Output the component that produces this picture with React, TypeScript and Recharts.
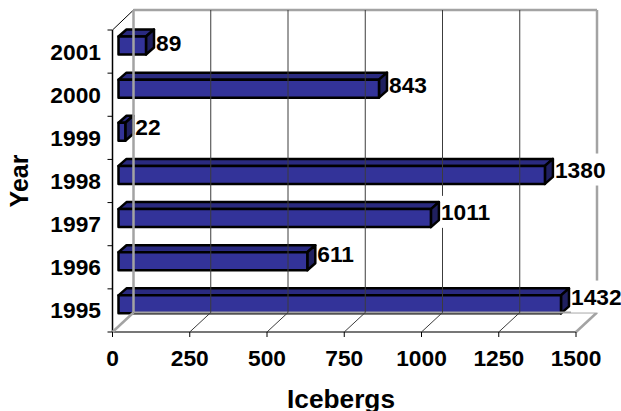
import React from "react";
import { BarChart, Bar, XAxis, YAxis, LabelList } from "recharts";

const years = ["2001", "2000", "1999", "1998", "1997", "1996", "1995"];
const icebergs = [89, 843, 22, 1380, 1011, 611, 1432];
const valueTicks = [0, 250, 500, 750, 1000, 1250, 1500];
const data = years.map((year, i) => ({ year, icebergs: icebergs[i] }));

const W = 621, H = 411;
const LEFT = 112.5, RIGHT = 576, TOP = 30, BOTTOM = 332;
const WALL_DX = 21, WALL_DY = 19.5, WALL_TOP = 10;
const BAR_DX = 6, BAR_DY = 6.5, DEPTH_X = 8, DEPTH_Y = 7;
const BAND = (BOTTOM - TOP) / years.length;
const FONT = "'Liberation Sans', Arial, sans-serif";
const GREY = "#a3a3a3";
const DARK = "#3c3c3c";
const STRETCH = 1.035;

const Txt = ({ x, y, children, anchor = "middle", size = 22, sx = STRETCH }: any) => (
  <text transform={`translate(${x},${y}) scale(${sx},1)`} textAnchor={anchor} fontFamily={FONT}
    fontWeight="bold" fontSize={size} fill="#000">{children}</text>
);

const XTick = ({ x, index, payload }: any) => {
  const edge = index === 0 || index === valueTicks.length - 1;
  const backY = BOTTOM - WALL_DY;
  return (
    <g>
      {index === 0 && (
        <g>
          <line x1={LEFT + WALL_DX} x2={RIGHT + WALL_DX} y1={WALL_TOP} y2={WALL_TOP} stroke={GREY} strokeWidth={2.5} />
          <line x1={LEFT + WALL_DX} x2={RIGHT + WALL_DX} y1={backY} y2={backY} stroke={GREY} strokeWidth={2} />
          <line x1={LEFT} x2={RIGHT} y1={BOTTOM} y2={BOTTOM} stroke="#777" strokeWidth={2} />
          <line x1={LEFT} x2={LEFT} y1={TOP} y2={BOTTOM} stroke="#000" strokeWidth={1.5} />
          <line x1={LEFT} x2={LEFT + WALL_DX} y1={TOP} y2={WALL_TOP} stroke="#000" strokeWidth={1} />
        </g>
      )}
      <line x1={x + WALL_DX} x2={x + WALL_DX} y1={WALL_TOP} y2={backY}
        stroke={edge ? GREY : DARK} strokeWidth={edge ? 2.5 : 1} />
      <line x1={x} x2={x + WALL_DX} y1={BOTTOM} y2={backY}
        stroke={edge ? GREY : DARK} strokeWidth={edge ? 2.5 : 1} />
      <line x1={x} x2={x} y1={BOTTOM} y2={BOTTOM + 5} stroke="#000" strokeWidth={1} />
      <Txt x={x} y={366}>{payload.value}</Txt>
      {index === 0 && <Txt x={341} y={408} size={26} sx={1.01}>Icebergs</Txt>}
    </g>
  );
};

const YTick = ({ y, index, payload }: any) => (
  <g>
    {index === 0 && <line x1={LEFT - 5} x2={LEFT} y1={y - BAND / 2} y2={y - BAND / 2} stroke="#000" />}
    <line x1={LEFT - 5} x2={LEFT} y1={y + BAND / 2} y2={y + BAND / 2} stroke="#000" />
    <Txt x={101} y={y + 8} anchor="end">{payload.value}</Txt>
    {index === 3 && (
      <text transform={`translate(28,181) scale(1.06,1) rotate(-90)`} textAnchor="middle"
        fontFamily={FONT} fontWeight="bold" fontSize={25} fill="#000">Year</text>
    )}
  </g>
);

const Bar3D = ({ x, y, width, height }: any) => {
  const fx = x + BAR_DX, fy = y - BAR_DY, r = fx + width;
  const b = fy + height;
  const outline = { stroke: "#000", strokeWidth: 2.5, strokeLinejoin: "round" as const };
  return (
    <g>
      <path d={`M${fx},${fy}L${fx + DEPTH_X},${fy - DEPTH_Y}L${r + DEPTH_X},${fy - DEPTH_Y}L${r},${fy}Z`} fill="#2a2a80" {...outline} />
      <path d={`M${r},${fy}L${r + DEPTH_X},${fy - DEPTH_Y}L${r + DEPTH_X},${b - DEPTH_Y}L${r},${b}Z`} fill="#20205f" {...outline} />
      <rect x={fx} y={fy} width={width} height={height} fill="#333399" {...outline} />
    </g>
  );
};

const BarValue = ({ x, y, width, height, value, index }: any) => {
  const lx = x + BAR_DX + width + DEPTH_X + 2;
  const cy = y + height / 2 - 9.5 - index * 0.8;
  const w = String(value).length * 12.8;
  return (
    <g>
      <rect x={lx} y={cy - 16} width={w + 1} height={32} fill="#fff" />
      <Txt x={lx} y={cy + 8} anchor="start">{value}</Txt>
    </g>
  );
};

export default function App() {
  return (
    <div style={{ position: "absolute", left: 0, top: 0, width: W, height: H, background: "#fff" }}>
      <BarChart width={W} height={H} data={data} layout="vertical"
        margin={{ top: TOP, right: W - RIGHT, bottom: 0, left: 0.5 }}>
        <XAxis type="number" domain={[0, 1500]} ticks={valueTicks} interval={0} height={H - BOTTOM}
          axisLine={false} tickLine={false} tick={<XTick />} />
        <YAxis type="category" dataKey="year" width={LEFT - 0.5} interval={0}
          axisLine={false} tickLine={false} tick={<YTick />} />
        <Bar dataKey="icebergs" barSize={18} isAnimationActive={false} shape={<Bar3D />}>
          <LabelList dataKey="icebergs" content={<BarValue />} />
        </Bar>
      </BarChart>
    </div>
  );
}
